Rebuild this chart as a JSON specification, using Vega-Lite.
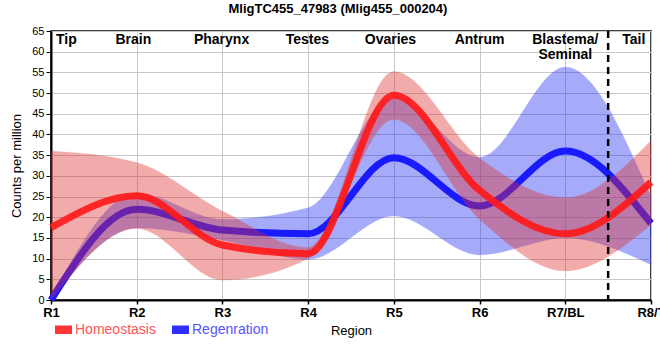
{
  "$schema": "https://vega.github.io/schema/vega-lite/v6.json",
  "width": 600,
  "height": 269,
  "autosize": {"type": "none"},
  "padding": {"left": 51, "top": 31, "right": 9, "bottom": 60},
  "background": "white",
  "title": {"text": "MligTC455_47983 (Mlig455_000204)", "fontSize": 13, "font": "Liberation Sans Narrow, Arial Narrow, Liberation Sans, sans-serif", "fontWeight": "bold", "anchor": "middle", "frame": "bounds", "offset": 9, "color": "black"},
  "config": {
    "view": {"stroke": "black", "strokeWidth": 1.5},
    "axis": {"gridColor": "#c8c8c8", "gridWidth": 1, "gridOpacity": 1, "domainColor": "black", "domainWidth": 2, "tickColor": "black", "labelColor": "black", "titleColor": "black"},
    "legend": {
      "symbolType": "M-1,-0.5H1V0.5H-1Z", "symbolSize": 289, "symbolStrokeWidth": 0, "symbolOpacity": 1,
      "labelOffset": 3, "labelFont": "Liberation Sans Narrow, Arial Narrow, Liberation Sans, sans-serif", "labelFontSize": 14
    }
  },
  "datasets": {
    "series": [
      {"region": 1, "group": "Homeostasis", "value": 17.5, "lo": 0, "hi": 36},
      {"region": 2, "group": "Homeostasis", "value": 25.2, "lo": 17.3, "hi": 33.2},
      {"region": 3, "group": "Homeostasis", "value": 13.3, "lo": 4.8, "hi": 21.5},
      {"region": 4, "group": "Homeostasis", "value": 11.2, "lo": 10, "hi": 12.7},
      {"region": 5, "group": "Homeostasis", "value": 49.5, "lo": 43.6, "hi": 55.2},
      {"region": 6, "group": "Homeostasis", "value": 26.5, "lo": 19.5, "hi": 34.3},
      {"region": 7, "group": "Homeostasis", "value": 16, "lo": 7, "hi": 24.7},
      {"region": 8, "group": "Homeostasis", "value": 28.5, "lo": 18.2, "hi": 38.5},
      {"region": 1, "group": "Regenration", "value": 0, "lo": 0, "hi": 0.5},
      {"region": 2, "group": "Regenration", "value": 21.9, "lo": 17.4, "hi": 25.8},
      {"region": 3, "group": "Regenration", "value": 16.9, "lo": 14.5, "hi": 19.5},
      {"region": 4, "group": "Regenration", "value": 16, "lo": 9.8, "hi": 22.3},
      {"region": 5, "group": "Regenration", "value": 34.4, "lo": 20.3, "hi": 49},
      {"region": 6, "group": "Regenration", "value": 22.7, "lo": 10.9, "hi": 34.5},
      {"region": 7, "group": "Regenration", "value": 36, "lo": 15, "hi": 56.3},
      {"region": 8, "group": "Regenration", "value": 18.5, "lo": 8.5, "hi": 25}
    ],
    "labels": [
      {"x": 1.18, "y": 64.6, "label": "Tip"},
      {"x": 1.96, "y": 64.6, "label": "Brain"},
      {"x": 2.99, "y": 64.6, "label": "Pharynx"},
      {"x": 3.99, "y": 64.6, "label": "Testes"},
      {"x": 4.96, "y": 64.6, "label": "Ovaries"},
      {"x": 6.0, "y": 64.6, "label": "Antrum"},
      {"x": 7.0, "y": 64.6, "label": "Blastema/\nSeminal"},
      {"x": 7.8, "y": 64.6, "label": "Tail"}
    ],
    "divider": [{"x": 7.5}]
  },
  "encoding": {
    "x": {"field": "region", "type": "quantitative",
      "scale": {"domain": [1, 8], "nice": false},
      "axis": {"values": [1, 2, 3, 4, 5, 6, 7, 8], "labelExpr": "datum.value == 7 ? 'R7/BL' : datum.value == 8 ? 'R8/T' : 'R' + datum.value", "title": "Region", "labelFont": "Liberation Sans Narrow, Arial Narrow, Liberation Sans, sans-serif", "labelFontWeight": "bold", "labelFontSize": 13, "labelPadding": 2, "tickSize": 4, "tickWidth": 1.5, "titleFont": "Liberation Sans Narrow, Arial Narrow, Liberation Sans, sans-serif", "titleFontSize": 13, "titleFontWeight": "normal", "titlePadding": 5, "labelFlush": false, "labelOverlap": false}},
    "y": {"field": "value", "type": "quantitative",
      "scale": {"domain": [0, 65], "nice": false},
      "axis": {"values": [0, 5, 10, 15, 20, 25, 30, 35, 40, 45, 50, 55, 60, 65], "title": "Counts per million", "labelFont": "Liberation Sans, Arial, sans-serif", "labelFontSize": 11, "labelOverlap": false, "labelFlush": false, "labelBound": false, "tickSize": 5, "labelPadding": 2, "titleFont": "Liberation Sans, Arial, sans-serif", "titleFontSize": 13, "titleFontWeight": "normal", "titlePadding": 8}}
  },
  "layer": [
    {
      "data": {"name": "series"},
      "transform": [{"filter": "datum.group === 'Regenration'"}],
      "mark": {"type": "area", "interpolate": "monotone", "color": "#2030f0", "opacity": 0.4, "stroke": "#2030f0", "strokeOpacity": 0.25, "strokeWidth": 1},
      "encoding": {
        "y": {"field": "hi", "type": "quantitative"},
        "y2": {"field": "lo"}
      }
    },
    {
      "data": {"name": "series"},
      "transform": [{"filter": "datum.group === 'Regenration'"}],
      "mark": {"type": "line", "interpolate": "monotone", "strokeWidth": 7, "strokeCap": "butt"},
      "encoding": {
        "color": {"field": "group", "type": "nominal",
          "scale": {"domain": ["Homeostasis", "Regenration"], "range": ["#ff1a1a", "#1a1aff"]},
          "legend": {"title": null, "orient": "none", "legendX": 4, "legendY": 290, "direction": "horizontal", "columns": 2, "columnPadding": 16,
            "encode": {
              "symbols": {"update": {"fill": {"signal": "datum.value === 'Homeostasis' ? '#ff3535' : '#2e2eff'"}, "stroke": {"value": "transparent"}, "opacity": {"value": 1}}},
              "labels": {"update": {"fill": {"signal": "datum.value === 'Homeostasis' ? '#ff5555' : '#5555ff'"}}}
            }}}
      }
    },
    {
      "data": {"name": "series"},
      "transform": [{"filter": "datum.group === 'Homeostasis'"}],
      "mark": {"type": "area", "interpolate": "monotone", "color": "#e03030", "opacity": 0.4, "stroke": "#e03030", "strokeOpacity": 0.25, "strokeWidth": 1},
      "encoding": {
        "y": {"field": "hi", "type": "quantitative"},
        "y2": {"field": "lo"}
      }
    },
    {
      "data": {"name": "series"},
      "transform": [{"filter": "datum.group === 'Homeostasis'"}],
      "mark": {"type": "line", "interpolate": "monotone", "strokeWidth": 7, "strokeCap": "butt", "opacity": 0.92},
      "encoding": {
        "color": {"field": "group", "type": "nominal",
          "legend": {"title": null, "orient": "none", "legendX": 4, "legendY": 290, "direction": "horizontal", "columns": 2, "columnPadding": 16,
            "encode": {
              "symbols": {"update": {"fill": {"signal": "datum.value === 'Homeostasis' ? '#ff3535' : '#2e2eff'"}, "stroke": {"value": "transparent"}, "opacity": {"value": 1}}},
              "labels": {"update": {"fill": {"signal": "datum.value === 'Homeostasis' ? '#ff5555' : '#5555ff'"}}}
            }}}
      }
    },
    {
      "data": {"name": "divider"},
      "mark": {"type": "rule", "color": "black", "strokeWidth": 2.5, "strokeDash": [7, 5]},
      "encoding": {"x": {"field": "x", "type": "quantitative"}, "y": null}
    },
    {
      "data": {"name": "labels"},
      "mark": {"type": "text", "baseline": "top", "align": "center", "font": "Liberation Sans Narrow, Arial Narrow, Liberation Sans, sans-serif", "fontWeight": "bold", "fontSize": 14, "lineBreak": "\n", "lineHeight": 15, "color": "black"},
      "encoding": {
        "x": {"field": "x", "type": "quantitative"},
        "y": {"field": "y", "type": "quantitative"},
        "text": {"field": "label"}
      }
    }
  ]
}
